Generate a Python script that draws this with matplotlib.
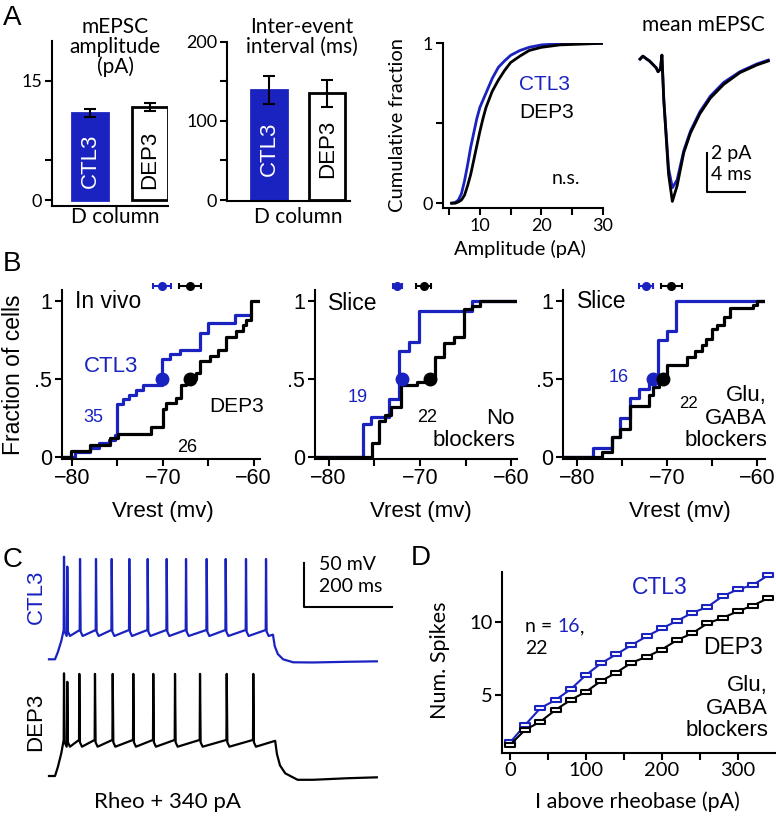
import matplotlib
matplotlib.use('Agg')
import matplotlib.pyplot as plt
from matplotlib.path import Path

W, H = 776, 818
BLUE = '#1a22c0'
SANS = ['Liberation Sans', 'DejaVu Sans']
CAL = ['Lato', 'DejaVu Sans']
plt.rcParams['font.family'] = SANS

# ---------------- data ----------------
groups = ['CTL3', 'DEP3']
amp_means = [11.0, 11.7]
amp_sems = [0.5, 0.5]
iei_means = [139, 135]
iei_sems = [18, 17]

cdf_amp_ctl = [5.4, 6.0, 6.5, 7.0, 7.5, 8.0, 8.5, 9.0, 9.5, 10.0, 11.0, 12.0, 13.0, 14.0, 15.0, 16.5, 18.0, 20.0, 23.0, 30.0]
cdf_frac_ctl = [0, 0.005, 0.02, 0.06, 0.14, 0.24, 0.35, 0.44, 0.53, 0.6, 0.69, 0.78, 0.85, 0.89, 0.925, 0.955, 0.975, 0.99, 0.997, 1.0]
cdf_amp_dep = [5.4, 6.0, 6.5, 7.0, 7.5, 8.0, 8.5, 9.0, 9.5, 10.0, 10.5, 11.0, 12.0, 13.0, 14.0, 15.0, 16.5, 18.0, 20.0, 23.0, 30.0]
cdf_frac_dep = [0, 0, 0.008, 0.02, 0.05, 0.11, 0.18, 0.27, 0.36, 0.45, 0.53, 0.6, 0.7, 0.77, 0.83, 0.88, 0.92, 0.955, 0.975, 0.99, 1.0]

mepsc_t = [0, 0.3, 0.7, 1.0, 1.4, 1.7, 1.9, 2.15, 2.3, 2.5, 3.0, 3.4, 3.9, 4.6, 5.3, 6.3, 7.4, 8.8, 10.5, 12.3, 13.5]
mepsc_ctl = [0, 0.15, 0.0, -0.1, -0.3, -0.45, -0.65, -0.5, 0.2, -2.1, -5.6, -6.6, -6.2, -4.7, -3.7, -2.7, -1.9, -1.2, -0.65, -0.25, -0.05]
mepsc_dep = [0, 0.15, 0.0, -0.1, -0.3, -0.45, -0.65, -0.5, 0.2, -2.1, -5.9, -7.3, -6.5, -4.8, -3.8, -2.8, -2.0, -1.3, -0.7, -0.3, -0.1]

# Panel B: step CDFs of Vrest (mV)
b1_ctl_v = [-81.0, -79.7, -78.0, -77.0, -75.9, -75.3, -75.0, -74.4, -73.7, -72.9, -72.2, -70.1, -69.2, -68.1, -65.9, -65.0, -62.1, -60.4]
b1_ctl_f = [0, 0.03, 0.06, 0.09, 0.11, 0.14, 0.34, 0.37, 0.40, 0.43, 0.46, 0.63, 0.66, 0.69, 0.80, 0.86, 0.91, 0.91]
b1_dep_v = [-81.0, -80.1, -78.0, -75.8, -74.9, -71.3, -70.0, -69.6, -68.5, -68.0, -67.4, -66.3, -65.9, -64.8, -63.9, -63.0, -61.9, -61.2, -60.8, -60.3, -59.3]
b1_dep_f = [0, 0.04, 0.08, 0.12, 0.15, 0.19, 0.31, 0.35, 0.38, 0.46, 0.50, 0.54, 0.62, 0.65, 0.69, 0.77, 0.81, 0.85, 0.88, 1.0, 1.0]
b2_ctl_v = [-81.5, -76.2, -75.4, -73.4, -72.3, -71.2, -70.1, -64.3, -59.4]
b2_ctl_f = [0, 0.21, 0.26, 0.37, 0.68, 0.74, 0.94, 1.0, 1.0]
b2_dep_v = [-81.5, -75.2, -74.5, -73.8, -73.2, -72.1, -70.3, -68.8, -68.3, -67.4, -66.3, -65.2, -64.3, -63.4, -59.4]
b2_dep_f = [0, 0.09, 0.23, 0.27, 0.32, 0.46, 0.48, 0.50, 0.64, 0.73, 0.77, 0.95, 0.97, 1.0, 1.0]
b3_ctl_v = [-81.5, -78.2, -76.1, -75.2, -74.1, -73.1, -72.0, -71.0, -70.0, -69.0, -59.1]
b3_ctl_f = [0, 0.06, 0.13, 0.25, 0.38, 0.44, 0.50, 0.75, 0.81, 1.0, 1.0]
b3_dep_v = [-81.5, -77.2, -76.1, -75.2, -74.1, -72.0, -71.5, -70.9, -70.0, -67.8, -66.9, -66.1, -65.6, -65.0, -64.4, -63.7, -63.0, -60.4, -60.0, -59.1]
b3_dep_f = [0, 0.03, 0.13, 0.18, 0.33, 0.40, 0.45, 0.50, 0.59, 0.64, 0.68, 0.72, 0.76, 0.82, 0.85, 0.90, 0.96, 0.98, 1.0, 1.0]
b_median_ctl = [-70.1, -72.0, -71.5]
b_median_dep = [-67.0, -68.9, -70.4]
b_mean_ctl = [-70.1, -72.5, -72.3]
b_sem_ctl = [1.0, 0.5, 0.8]
b_mean_dep = [-67.0, -69.6, -69.5]
b_sem_dep = [1.2, 0.8, 1.2]
b_n_ctl = ['35', '19', '16']
b_n_dep = ['26', '22', '22']

# Panel C: firing at rheobase + 340 pA (ms, mV)
c_ctl_spikes = [34.1, 41.6, 70.5, 106.8, 142.5, 182.5, 224.3, 267.5, 311.4, 358.4, 401.6, 447.7, 493.2]
c_ctl_peaks = [46.6, 35.3, 44, 44, 44, 44, 44, 44, 44, 44, 44, 44, 44]
c_dep_spikes = [34.1, 41.6, 68.9, 104.5, 144.8, 191.6, 237.0, 286.4, 343.2, 403.9, 464.3]
c_dep_peaks = [46.7, 37.0, 46, 46, 46, 46, 46, 46, 46, 46, 46]
c_ctl_levels = dict(base=-70, ahp=-43.5, pre=-36.7)
c_dep_levels = dict(base=-70, ahp=-36.7, pre=-29.0)
c_ctl_rise_t, c_ctl_rise_v = [13.6, 20, 28], [-70, -62, -49]
c_dep_rise_t, c_dep_rise_v = [13.6, 20, 28], [-70, -60, -44]
c_ctl_tail_t = [509, 513, 520, 532, 555, 600, 680, 745]
c_ctl_tail_v = [-42, -55, -64, -70, -73.4, -73.6, -72.8, -72.3]
c_dep_tail_t = [514, 518, 525, 537, 565, 600, 680, 745]
c_dep_tail_v = [-30, -45, -58, -67, -74.3, -74.3, -72.5, -71.5]
c_dep_offset = -132.6

# Panel D: spikes vs current above rheobase
d_current = [0, 20, 40, 60, 80, 100, 120, 140, 160, 180, 200, 220, 240, 260, 280, 300, 320, 340]
d_ctl = [1.76, 2.96, 4.1, 4.66, 5.39, 6.36, 7.16, 7.77, 8.4, 9.0, 9.54, 10.05, 10.6, 11.0, 11.73, 12.2, 12.5, 13.16]
d_dep = [1.6, 2.62, 3.18, 3.98, 4.66, 5.22, 5.95, 6.52, 7.2, 7.6, 8.1, 8.74, 9.2, 9.88, 10.26, 10.7, 11.1, 11.6]

# ---------------- helpers ----------------
fig = plt.figure(figsize=(W / 100, H / 100), dpi=100)


def ax_px(x0, y0, x1, y1):
    return fig.add_axes([x0 / W, 1 - y1 / H, (x1 - x0) / W, (y1 - y0) / H])


def tx(x, y, s, **kw):
    kw.setdefault('ha', 'left')
    kw.setdefault('va', 'center')
    return fig.text(x / W, 1 - y / H, s, **kw)


def run(x, y, parts, **kw):
    """Left-to-right run of differently coloured text pieces."""
    r = fig.canvas.get_renderer()
    for s, c in parts:
        t = tx(x, y, s, color=c, **kw)
        bb = t.get_window_extent(renderer=r)
        x += bb.width


def style(ax, fam, size):
    for sp in ['top', 'right']:
        ax.spines[sp].set_visible(False)
    for sp in ['left', 'bottom']:
        ax.spines[sp].set_linewidth(1.5)
    ax.tick_params(which='both', direction='out', width=1.5, labelsize=size, pad=2)
    ax.tick_params(which='major', length=5)
    ax.tick_params(which='minor', length=5)
    for lab in ax.get_xticklabels() + ax.get_yticklabels():
        lab.set_fontfamily(fam)


# ---------------- Panel A ----------------
tx(3, 18, 'A', fontsize=20)

ax = ax_px(52, 41.3, 168, 205.6)
ax.bar([0, 1], amp_means, width=0.61, color=[BLUE, 'white'], edgecolor=[BLUE, 'black'], linewidth=2)
ax.errorbar([0, 1], amp_means, yerr=amp_sems, fmt='none', ecolor='black', capsize=4, elinewidth=1.5, capthick=1.5)
ax.set_xlim(-0.635, 1.3)
ax.set_ylim(-0.7, 20)
ax.set_xticks([])
ax.set_yticks([0, 5, 15])
ax.set_yticklabels(['0', '', '15'])
style(ax, CAL, 13)
for i, g in enumerate(groups):
    ax.text(i, 5, g, rotation=90, ha='center', va='center', fontsize=16,
            color='white' if i == 0 else 'black')
tx(115, 47, 'mEPSC\namplitude\n(pA)', ha='center', fontsize=15, family=CAL, linespacing=1.0)
tx(115, 217, 'D column', ha='center', fontsize=15, family=CAL)

ax = ax_px(227, 41.7, 350, 200.8)
ax.bar([0, 1], iei_means, width=0.61, color=[BLUE, 'white'], edgecolor=[BLUE, 'black'], linewidth=2)
ax.errorbar([0, 1], iei_means, yerr=iei_sems, fmt='none', ecolor='black', capsize=4, elinewidth=1.5, capthick=1.5)
ax.set_xlim(-0.72, 1.39)
ax.set_ylim(-1, 200)
ax.set_xticks([])
ax.set_yticks([0, 50, 100, 150, 200])
ax.set_yticklabels(['0', '', '100', '', '200'])
style(ax, CAL, 13)
for i, g in enumerate(groups):
    ax.text(i, 65, g, rotation=90, ha='center', va='center', fontsize=16,
            color='white' if i == 0 else 'black')
tx(302, 37, 'Inter-event\ninterval (ms)', ha='center', fontsize=15, family=CAL, linespacing=1.0)
tx(298, 217, 'D column', ha='center', fontsize=15, family=CAL)

ax = ax_px(443, 43.3, 603, 208)
ax.plot(cdf_amp_ctl, cdf_frac_ctl, color=BLUE, lw=2)
ax.plot(cdf_amp_dep, cdf_frac_dep, color='black', lw=2)
ax.set_xlim(4, 30)
ax.set_ylim(-0.03, 1.0)
ax.set_xticks([10, 20, 30])
ax.set_xticks([5, 15, 25], minor=True)
ax.set_yticks([0, 0.5, 1])
ax.set_yticklabels(['0', '', '1'])
style(ax, CAL, 13)
tx(398, 125, 'Cumulative fraction', ha='center', rotation=90, fontsize=14.5, family=CAL)
tx(520, 249, 'Amplitude (pA)', ha='center', fontsize=14.5, family=CAL)
tx(519, 85, 'CTL3', fontsize=15, color=BLUE)
tx(519, 112, 'DEP3', fontsize=15)
tx(552, 178, 'n.s.', fontsize=14, family=CAL)

ax = ax_px(635, 45, 775, 210)
ax.plot(mepsc_t, mepsc_ctl, color=BLUE, lw=2)
ax.plot(mepsc_t, mepsc_dep, color='black', lw=2)
ax.plot([7.05, 7.05, 11.05], [-4.82, -6.82, -6.82], color='black', lw=1.5)
ax.set_xlim(-0.53, 14.2)
ax.set_ylim(-7.74, 0.72)
ax.axis('off')
tx(703, 25, 'mean mEPSC', ha='center', fontsize=15, family=CAL)
tx(711, 154, '2 pA', fontsize=14, family=CAL)
tx(711, 174, '4 ms', fontsize=14, family=CAL)

# ---------------- Panel B ----------------
tx(3, 264, 'B', fontsize=20)
b_axes_px = [(62, 260), (315, 516.6), (563.3, 765)]
b_xlims = [(-81.1, -59.3), (-81.5, -59.4), (-81.5, -59.1)]
b_ctl = [(b1_ctl_v, b1_ctl_f), (b2_ctl_v, b2_ctl_f), (b3_ctl_v, b3_ctl_f)]
b_dep = [(b1_dep_v, b1_dep_f), (b2_dep_v, b2_dep_f), (b3_dep_v, b3_dep_f)]
b_xlabel_x = [163, 421, 680]
for k in range(3):
    x0, x1 = b_axes_px[k]
    ax = ax_px(x0, 289.8, x1, 458.6)
    ax.step(b_ctl[k][0], b_ctl[k][1], where='post', color=BLUE, lw=2.3, zorder=2)
    ax.step(b_dep[k][0], b_dep[k][1], where='post', color='black', lw=2.3, zorder=3)
    ax.plot(b_median_ctl[k], 0.5, 'o', color=BLUE, ms=9, zorder=4)
    ax.plot(b_median_dep[k], 0.5, 'o', color='black', ms=9, zorder=4)
    ax.errorbar(b_mean_ctl[k], 1.1, xerr=b_sem_ctl[k], fmt='o', color=BLUE, ms=5.5,
                capsize=2.5, elinewidth=1.5, capthick=1.5, clip_on=False)
    ax.errorbar(b_mean_dep[k], 1.1, xerr=b_sem_dep[k], fmt='o', color='black', ms=5.5,
                capsize=2.5, elinewidth=1.5, capthick=1.5, clip_on=False)
    ax.set_xlim(*b_xlims[k])
    ax.set_ylim(-0.01, 1.075)
    ax.set_xticks([-80, -70, -60])
    ax.set_xticks([-75, -65], minor=True)
    ax.set_yticks([0, 0.5, 1])
    ax.set_yticklabels(['0', '.5', '1'])
    style(ax, SANS, 15.5)
    tx(b_xlabel_x[k], 511, 'Vrest (mv)', ha='center', fontsize=16)

tx(14, 375, 'Fraction of cells', ha='center', rotation=90, fontsize=16.5)
tx(75, 302, 'In vivo', fontsize=16.5)
tx(84, 367, 'CTL3', fontsize=16, color=BLUE)
tx(83, 418, b_n_ctl[0], fontsize=13, color=BLUE)
tx(209, 407, 'DEP3', fontsize=15)
tx(177, 448, b_n_dep[0], fontsize=13)
tx(328, 303, 'Slice', fontsize=16.5)
tx(348, 397, b_n_ctl[1], fontsize=13, color=BLUE)
tx(417, 417, b_n_dep[1], fontsize=13)
tx(515, 418, 'No', ha='right', fontsize=16)
tx(515, 441, 'blockers', ha='right', fontsize=16)
tx(577, 301, 'Slice', fontsize=16.5)
tx(609, 377, b_n_ctl[2], fontsize=13, color=BLUE)
tx(679, 404, b_n_dep[2], fontsize=12)
tx(767, 396, 'Glu,', ha='right', fontsize=16)
tx(767, 418, 'GABA', ha='right', fontsize=16)
tx(767, 441, 'blockers', ha='right', fontsize=16)

# ---------------- Panel C ----------------
tx(3, 560, 'C', fontsize=20)


def build_trace(levels, rise_t, rise_v, spikes, peaks, tail_t, tail_v):
    t = [0] + list(rise_t)
    v = [levels['base']] + list(rise_v)
    for ts, pk in zip(spikes, peaks):
        t += [ts - 0.7, ts, ts + 1.4, ts + 6]
        v += [levels['pre'], pk, levels['ahp'] + 5, levels['ahp']]
    t += list(tail_t)
    v += list(tail_v)
    return t, v


ax = ax_px(40, 550, 400, 790)
t1, v1 = build_trace(c_ctl_levels, c_ctl_rise_t, c_ctl_rise_v, c_ctl_spikes, c_ctl_peaks, c_ctl_tail_t, c_ctl_tail_v)
t2, v2 = build_trace(c_dep_levels, c_dep_rise_t, c_dep_rise_v, c_dep_spikes, c_dep_peaks, c_dep_tail_t, c_dep_tail_v)
ax.plot(t1, v1, color=BLUE, lw=1.6)
ax.plot(t2, [v + c_dep_offset for v in v2], color='black', lw=1.6)
ax.plot([579.5, 579.5, 779.5], [39.4, -10.6, -10.6], color='black', lw=1.5)
ax.set_xlim(-20.45, 797.7)
ax.set_ylim(-218.5, 54.2)
ax.axis('off')
tx(36, 597, 'CTL3', ha='center', rotation=90, fontsize=16, color=BLUE)
tx(36, 722, 'DEP3', ha='center', rotation=90, fontsize=16)
tx(319, 565, '50 mV', fontsize=14, family=CAL)
tx(319, 587, '200 ms', fontsize=14, family=CAL)
tx(168, 802, 'Rheo + 340 pA', ha='center', fontsize=16, family=CAL)

# ---------------- Panel D ----------------
tx(411, 558, 'D', fontsize=20)
rect = Path([(-1, -0.55), (1, -0.55), (1, 0.55), (-1, 0.55), (-1, -0.55)],
            [Path.MOVETO, Path.LINETO, Path.LINETO, Path.LINETO, Path.CLOSEPOLY])
ax = ax_px(502, 571.7, 776, 752.7)
ax.plot(d_current, d_ctl, color=BLUE, lw=1.5, marker=rect, ms=6.5, mfc='white', mec=BLUE, mew=1.5, clip_on=False)
ax.plot(d_current, d_dep, color='black', lw=1.5, marker=rect, ms=6.5, mfc='white', mec='black', mew=1.5, clip_on=False)
ax.set_xlim(-10.6, 350.5)
ax.set_ylim(1.06, 13.41)
ax.set_xticks([0, 100, 200, 300])
ax.set_xticks([50, 150, 250], minor=True)
ax.set_yticks([5, 10])
style(ax, CAL, 14.5)
tx(440, 660, 'Num. Spikes', ha='center', rotation=90, fontsize=15.5, family=CAL)
tx(637, 802, 'I above rheobase (pA)', ha='center', fontsize=15.5, family=CAL)
tx(632, 588, 'CTL3', fontsize=16.5, color=BLUE)
tx(763, 647, 'DEP3', ha='right', fontsize=16.5)
tx(768, 686, 'Glu,', ha='right', fontsize=16)
tx(768, 709, 'GABA', ha='right', fontsize=16)
tx(768, 731, 'blockers', ha='right', fontsize=16)
run(525, 627, [('n = ', 'black'), ('16', BLUE), (',', 'black')], fontsize=14, family=CAL)
tx(525, 648, '22', fontsize=14, family=CAL)

fig.savefig('out.png', dpi=100)
